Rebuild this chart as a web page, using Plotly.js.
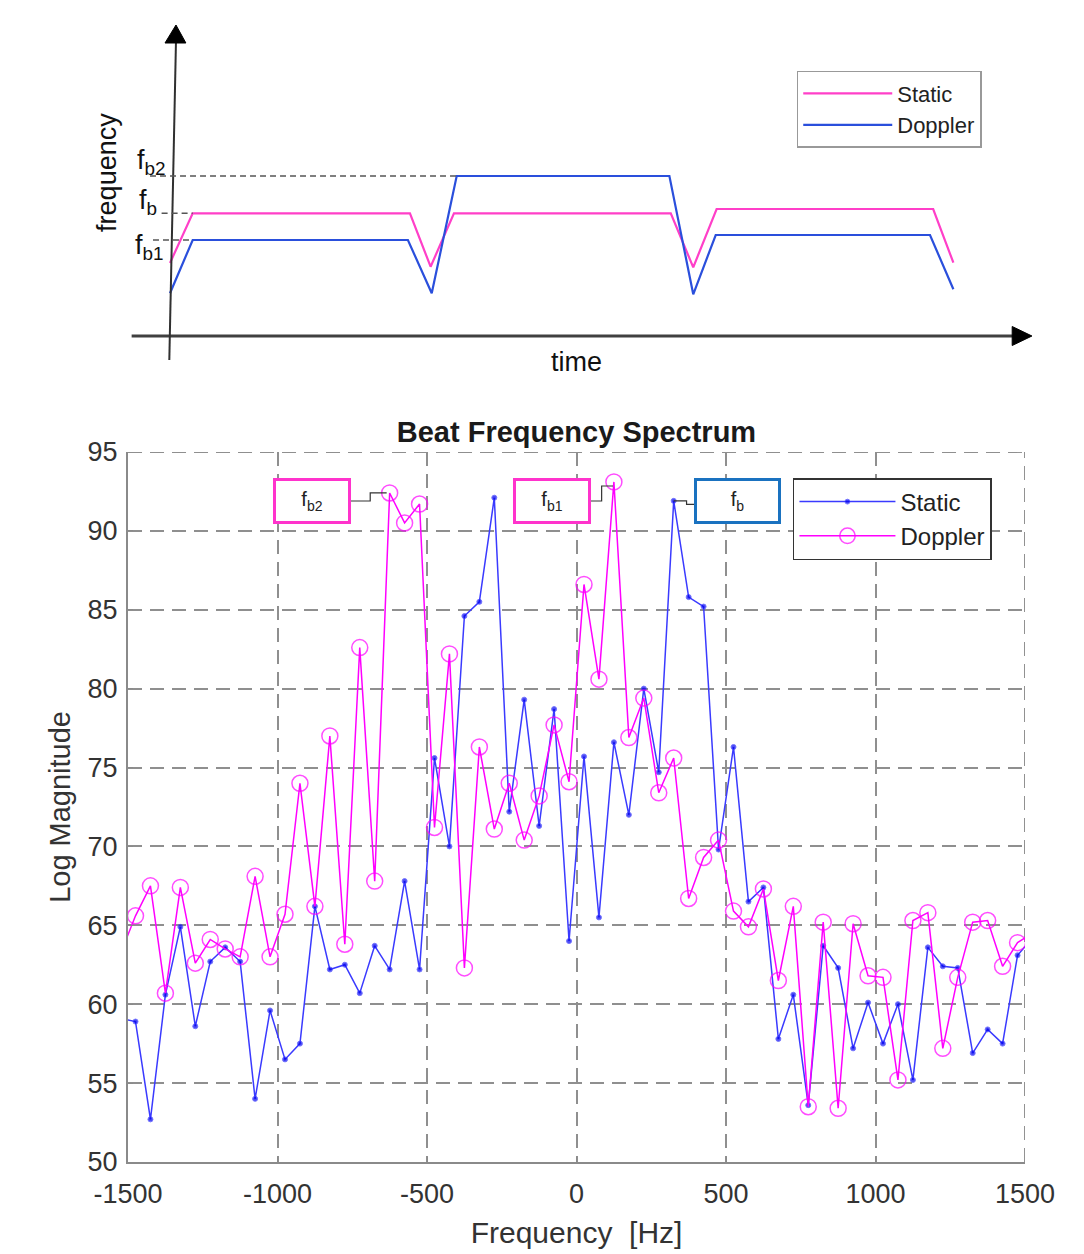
<!DOCTYPE html>
<html>
<head>
<meta charset="utf-8">
<script src="https://cdn.plot.ly/plotly-3.0.1.min.js"></script>
<style>html,body{margin:0;padding:0;background:#fff}#chart{width:1084px;height:1254px}</style>
</head>
<body>
<div id="chart"></div>
<script>
// ---------- Spectrum data (bottom panel) ----------
const freqHz = [-1525,-1475,-1425,-1375,-1325,-1275,-1225,-1175,-1125,-1075,-1025,-975,-925,-875,-825,-775,-725,-675,-625,-575,-525,-475,-425,-375,-325,-275,-225,-175,-125,-75,-25,25,75,125,175,225,275,325,375,425,475,525,575,625,675,725,775,825,875,925,975,1025,1075,1125,1175,1225,1275,1325,1375,1425,1475,1525];
const staticMag = [59.1,58.9,52.7,60.6,64.9,58.6,62.7,63.6,62.7,54.0,59.6,56.5,57.5,66.2,62.2,62.5,60.7,63.7,62.2,67.8,62.2,75.6,70.0,84.6,85.5,92.1,72.2,79.3,71.3,78.7,64.0,75.7,65.5,76.6,72.0,80.0,74.7,91.9,85.8,85.2,69.8,76.3,66.5,67.4,57.8,60.6,53.6,63.7,62.3,57.2,60.1,57.5,60.0,55.2,63.6,62.4,62.3,56.9,58.4,57.5,63.1,64.2];
const dopplerMag = [63.2,65.6,67.5,60.7,67.4,62.6,64.1,63.5,63.0,68.1,63.0,65.7,74.0,66.2,77.0,63.8,82.6,67.8,92.4,90.5,91.7,71.2,82.2,62.3,76.3,71.1,74.0,70.4,73.2,77.7,74.1,86.6,80.6,93.1,76.9,79.4,73.4,75.6,66.7,69.3,70.4,65.9,64.9,67.3,61.5,66.2,53.5,65.2,53.4,65.1,61.8,61.7,55.2,65.3,65.8,57.2,61.7,65.2,65.3,62.4,63.9,64.5];
const xTicks = [-1500,-1000,-500,0,500,1000,1500];
const yTicks = [50,55,60,65,70,75,80,85,90,95];
const seriesNames = ['Static','Doppler'];

// ---------- Schematic data (top panel) ----------
const schemTimeStatic  = [0,1.0,10.57,11.48,12.51,22.06,23.05,24.08,33.62,34.51];
const schemFreqStatic  = [7.3,12.27,12.27,6.93,12.27,12.27,6.87,12.7,12.7,7.33];
const schemTimeDoppler = [0,1.0,10.48,11.53,12.63,22.0,23.05,24.04,33.48,34.51];
const schemFreqDoppler = [4.27,9.6,9.6,4.27,16.0,16.0,4.17,10.1,10.1,4.67];

const FONT = 'Liberation Sans, Arial, Helvetica, sans-serif';
const PINK = '#ff33cc';
const MAT_BLUE = '#1a72c0';
const X_MIN = -1500, X_MAX = 1500, Y_MIN = 50, Y_MAX = 95;
const GRID_COLOR = '#8f8f8f', GRID_DASH = '14px,8px';

// markers only for bins inside the visible range (the outer bins only carry the line to the edge)
const inRange = freqHz.map(f => f >= X_MIN && f <= X_MAX);

// peaks used by callouts
const fb2Idx = 18, fb1Idx = 33, fbIdx = 37;

const traces = [
  // bottom spectrum
  {x: freqHz, y: staticMag, name: seriesNames[0], type: 'scatter', mode: 'lines+markers',
   line: {color: '#3a3aff', width: 1.5},
   marker: {color: '#0000ee', size: inRange.map(v => v ? 5 : 0), symbol: 'circle'},
   xaxis: 'x', yaxis: 'y', legend: 'legend', cliponaxis: true},
  {x: freqHz, y: dopplerMag, name: seriesNames[1], type: 'scatter', mode: 'lines+markers',
   line: {color: '#ff00ff', width: 1.5},
   marker: {symbol: 'circle-open', size: inRange.map(v => v ? 16 : 0), color: '#ff00ff', line: {color: '#ff00ff', width: 1.5}},
   xaxis: 'x', yaxis: 'y', legend: 'legend', cliponaxis: true},
  // top schematic
  {x: schemTimeStatic, y: schemFreqStatic, name: seriesNames[0], type: 'scatter', mode: 'lines',
   line: {color: '#ff3fc8', width: 2.2}, xaxis: 'x2', yaxis: 'y2', legend: 'legend2'},
  {x: schemTimeDoppler, y: schemFreqDoppler, name: seriesNames[1], type: 'scatter', mode: 'lines',
   line: {color: '#2a4fdc', width: 2.2}, xaxis: 'x2', yaxis: 'y2', legend: 'legend2'}
];

const fb2Level = schemFreqDoppler[4];
const fbLevel = schemFreqStatic[1];
const fb1Level = schemFreqDoppler[1];

const shapes = [
  // dashed grid along the top and right edges of the spectrum axes
  {type: 'line', xref: 'x domain', yref: 'y', x0: 0, x1: 1, y0: Y_MAX, y1: Y_MAX, layer: 'below',
   line: {color: GRID_COLOR, width: 2, dash: GRID_DASH}},
  {type: 'line', xref: 'x', yref: 'y domain', x0: X_MAX, x1: X_MAX, y0: 0, y1: 1, layer: 'below',
   line: {color: GRID_COLOR, width: 2, dash: GRID_DASH}},
  // top axes (arrows)
  {type: 'line', xref: 'x2', yref: 'y2', x0: -1.69, y0: 0, x1: 37.3, y1: 0, line: {color: '#404040', width: 3}},
  {type: 'path', xref: 'x2', yref: 'y2', path: 'M 37.1,0.95 L 37.97,0 L 37.1,-0.95 Z', fillcolor: '#000', line: {color: '#000', width: 1}},
  {type: 'line', xref: 'x2', yref: 'y2', x0: -0.03, y0: -2.4, x1: 0.264, y1: 29.5, line: {color: '#303030', width: 2}},
  {type: 'path', xref: 'x2', yref: 'y2', path: 'M -0.22,29.3 L 0.264,31.1 L 0.70,29.3 Z', fillcolor: '#000', line: {color: '#000', width: 1}},
  // dashed reference levels
  {type: 'line', xref: 'x2', yref: 'y2', x0: -0.88, y0: fb2Level, x1: schemTimeDoppler[4], y1: fb2Level, line: {color: '#555', width: 1.5, dash: '6px,4px'}},
  {type: 'line', xref: 'x2', yref: 'y2', x0: -0.37, y0: fbLevel, x1: schemTimeStatic[1], y1: fbLevel, line: {color: '#555', width: 1.5, dash: '6px,4px'}},
  {type: 'line', xref: 'x2', yref: 'y2', x0: -0.75, y0: fb1Level, x1: schemTimeDoppler[1], y1: fb1Level, line: {color: '#555', width: 1.5, dash: '6px,4px'}},
  // callout connectors
  {type: 'path', xref: 'x', yref: 'y', line: {color: '#333', width: 1.2},
   path: `M -757,91.89 L -690,91.89 L -690,${dopplerMag[fb2Idx]} L ${freqHz[fb2Idx]-10},${dopplerMag[fb2Idx]}`},
  {type: 'path', xref: 'x', yref: 'y', line: {color: '#333', width: 1.2},
   path: `M 47,91.89 L 84,91.89 L 84,92.84 L ${freqHz[fb1Idx]-3},92.84`},
  {type: 'path', xref: 'x', yref: 'y', line: {color: '#333', width: 1.2},
   path: `M ${freqHz[fbIdx]},${staticMag[fbIdx]} L 368,${staticMag[fbIdx]} L 368,91.68 L 396,91.68`}
];

const annotations = [
  // callout boxes
  {xref: 'x', yref: 'y', x: -884.6, y: 91.91, text: 'f<sub>b2</sub>', showarrow: false,
   font: {family: FONT, size: 20, color: '#222'}, bgcolor: '#fff', bordercolor: PINK, borderwidth: 3,
   borderpad: 0, width: 72, height: 40},
  {xref: 'x', yref: 'y', x: -82, y: 91.91, text: 'f<sub>b1</sub>', showarrow: false,
   font: {family: FONT, size: 20, color: '#222'}, bgcolor: '#fff', bordercolor: PINK, borderwidth: 3,
   borderpad: 0, width: 72, height: 40},
  {xref: 'x', yref: 'y', x: 538.5, y: 91.91, text: 'f<sub>b</sub>', showarrow: false,
   font: {family: FONT, size: 20, color: '#222'}, bgcolor: '#fff', bordercolor: MAT_BLUE, borderwidth: 3,
   borderpad: 0, width: 81, height: 40},
  // schematic labels
  {xref: 'x2', yref: 'y2', x: -1.54, y: 17.4, xanchor: 'left', yanchor: 'middle', text: 'f<sub>b2</sub>', showarrow: false,
   font: {family: FONT, size: 27, color: '#111'}},
  {xref: 'x2', yref: 'y2', x: -1.45, y: 13.4, xanchor: 'left', yanchor: 'middle', text: 'f<sub>b</sub>', showarrow: false,
   font: {family: FONT, size: 27, color: '#111'}},
  {xref: 'x2', yref: 'y2', x: -1.63, y: 8.95, xanchor: 'left', yanchor: 'middle', text: 'f<sub>b1</sub>', showarrow: false,
   font: {family: FONT, size: 27, color: '#111'}},
  {xref: 'x2', yref: 'y2', x: -2.78, y: 16.4, text: 'frequency', textangle: -90, showarrow: false,
   font: {family: FONT, size: 27, color: '#111'}},
  {xref: 'x2', yref: 'y2', x: 17.89, y: -2.6, text: 'time', showarrow: false,
   font: {family: FONT, size: 27, color: '#111'}}
];

const axisCommon = {
  showgrid: true, gridcolor: GRID_COLOR, gridwidth: 2, griddash: GRID_DASH,
  showline: true, linecolor: '#8a8a8a', linewidth: 2, mirror: false,
  ticks: 'inside', ticklen: 5, tickcolor: '#8a8a8a', zeroline: false,
  tickfont: {family: FONT, size: 27, color: '#333'}
};

const layout = {
  width: 1084, height: 1254,
  margin: {l: 0, r: 0, t: 0, b: 0},
  paper_bgcolor: '#fff', plot_bgcolor: 'rgba(0,0,0,0)',
  title: {text: '<b>Beat Frequency Spectrum</b>', x: 0.5318, xanchor: 'center', xref: 'paper',
          y: 0.6555, yanchor: 'middle', yref: 'paper', font: {family: FONT, size: 29, color: '#1a1a1a'}},
  xaxis: Object.assign({}, axisCommon, {
    domain: [0.1181, 0.9456], anchor: 'y', range: [X_MIN, X_MAX], tickvals: xTicks, ticktext: xTicks.map(String),
    ticklabelstandoff: 7,
    title: {text: 'Frequency  [Hz]', standoff: 14, font: {family: FONT, size: 30, color: '#333'}}
  }),
  yaxis: Object.assign({}, axisCommon, {
    domain: [0.0734, 0.6396], anchor: 'x', range: [Y_MIN, Y_MAX], tickvals: yTicks, ticktext: yTicks.map(String),
    ticklabelstandoff: 3,
    title: {text: 'Log Magnitude', standoff: 8, font: {family: FONT, size: 29, color: '#333'}}
  }),
  xaxis2: {domain: [0, 1], anchor: 'y2', range: [-7.489, 40.264], visible: false, fixedrange: true},
  yaxis2: {domain: [0.68102, 1], anchor: 'x2', range: [-6.4, 33.6], visible: false, fixedrange: true},
  showlegend: true,
  legend: {x: 0.7315, y: 0.6188, xanchor: 'left', yanchor: 'top', bgcolor: '#fff',
           bordercolor: '#333', borderwidth: 1.5, font: {family: FONT, size: 24, color: '#222'},
           itemwidth: 96, tracegroupgap: 0},
  legend2: {x: 0.735, y: 0.9434, xanchor: 'left', yanchor: 'top', bgcolor: '#fff',
            bordercolor: '#999', borderwidth: 1.5, font: {family: FONT, size: 22, color: '#222'},
            itemwidth: 89, tracegroupgap: 0},
  shapes: shapes,
  annotations: annotations
};

Plotly.newPlot('chart', traces, layout, {displayModeBar: false, staticPlot: true});
</script>
</body>
</html>
